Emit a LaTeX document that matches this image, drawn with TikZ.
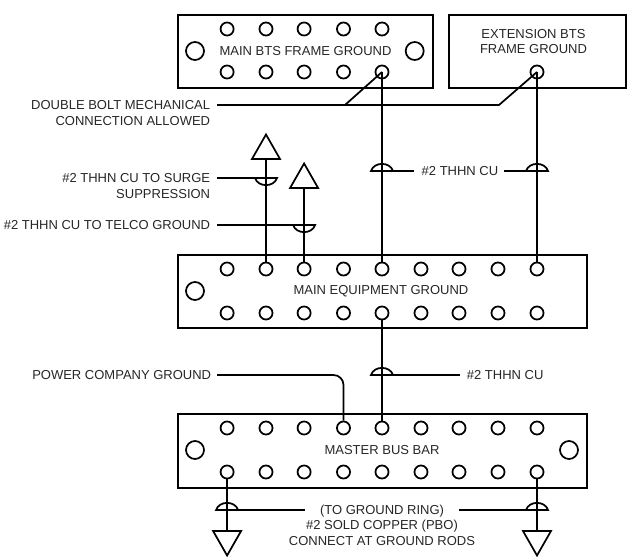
\documentclass[tikz,border=0pt]{standalone}
\usepackage{fontspec}
\setmainfont{Liberation Sans}
\begin{document}
\begin{tikzpicture}[x=0.75pt,y=-0.75pt,line width=1.3pt,
  lbl/.style={inner sep=0pt,font=\fontsize{9.75}{11.6}\selectfont,text=black!85},
  lblr/.style={lbl,anchor=east,align=right},
  hole/.style={circle,draw,fill=white,minimum size=9.8pt,inner sep=0pt},
  bighole/.style={circle,draw,fill=white,minimum size=13.5pt,inner sep=0pt},
  bar/.style={draw,rectangle,inner sep=0pt,anchor=north west},
  upbow/.pic={\draw (-11,0) .. controls (-8,-9.5) and (8,-9.5) .. (11,0) -- cycle;},
  downbow/.pic={\draw (-11,0) .. controls (-8,9.5) and (8,9.5) .. (11,0) -- cycle;},
  uptri/.pic={\draw[line join=miter] (-14,0) -- (0,-24.5) -- (14,0) -- cycle;},
  downtri/.pic={\draw[line join=miter] (-14,0) -- (0,24.5) -- (14,0) -- cycle;}]
\useasboundingbox (0,0) rectangle (637,560);
% boxes
\node[bar,minimum width=191.25pt,minimum height=54.75pt] (btsbox) at (177,14) {};
\node[bar,minimum width=132.75pt,minimum height=54.75pt] (extbox) at (448,14) {};
\node[bar,minimum width=307pt,minimum height=54.75pt] (eqbox) at (177,254) {};
\node[bar,minimum width=307pt,minimum height=55.5pt] (masterbox) at (177,413) {};
% wires (below the holes)
\coordinate (ta) at (266,159);
\coordinate (tb) at (304.1,188);
\coordinate (tc) at (227.1,531);
\coordinate (td) at (537,531);
\coordinate (j1) at (345,105);
\coordinate (j2) at (499,105);
\coordinate (s1) at (217,105);
\coordinate (s2) at (217,178);
\coordinate (s3) at (217,225);
\coordinate (s4) at (217,375);
\coordinate (e1) at (266,178);
\coordinate (e2) at (304.1,225);
\coordinate (b1) at (382,171);
\coordinate (b2) at (537,171);
\coordinate (b3) at (382,375);
\coordinate (b4) at (227.1,510);
\coordinate (b5) at (537,510);
\coordinate (t1) at (414,171);
\coordinate (t2) at (504,171);
\coordinate (t3) at (460,375);
\coordinate (t4) at (305,510);
\coordinate (t5) at (459,510);
% holes
\foreach \n/\x in {1/227.1,2/266,3/304.1,4/343.5,5/382}{
  \node[hole] (bt\n) at (\x,29) {};
  \node[hole] (bb\n) at (\x,72) {};
}
\node[hole] (extb) at (537,72) {};
\node[bighole] (btsl) at (195,51) {};
\node[bighole] (btsr) at (414.7,51) {};
\foreach \n/\x in {1/227.1,2/266,3/304.1,4/343.5,5/382,6/421,7/459,8/498,9/537}{
  \node[hole] (et\n) at (\x,269) {};
  \node[hole] (eb\n) at (\x,313) {};
  \node[hole] (mt\n) at (\x,428) {};
  \node[hole] (mb\n) at (\x,472) {};
}
\node[bighole] (eql) at (195,291) {};
\node[bighole] (ml) at (195,450) {};
\node[bighole] (mr) at (569,450) {};
% connectors
\draw (bb5.center) -- (et5.north);
\draw (extb.center) -- (et9.north);
\draw (ta) -- (et2.north);
\draw (tb) -- (et3.north);
\draw (eb5.south) -- (mt5.north);
\draw (mb1.south) -- (tc);
\draw (mb9.south) -- (td);
\draw (s1) -- (j1) -- (bb5.center);
\draw (j1) -- (j2) -- (extb.center);
\draw (s2) -- (e1);
\draw (s3) -- (e2);
\draw (b1) -- (t1);
\draw (t2) -- (b2);
\draw (b3) -- (t3);
\draw (b4) -- (t4);
\draw (t5) -- (b5);
\draw[rounded corners=7.5pt] (s4) -| (mt4.north);
% bows and triangles
\path (e1) pic {downbow};
\path (e2) pic {downbow};
\path (b1) pic {upbow};
\path (b2) pic {upbow};
\path (b3) pic {upbow};
\path (b4) pic {upbow};
\path (b5) pic {upbow};
\path (ta) pic {uptri};
\path (tb) pic {uptri};
\path (tc) pic {downtri};
\path (td) pic {downtri};
% texts
\node[lbl] (tbts) at (305.5,51) {MAIN BTS FRAME GROUND};
\node[lbl,align=center] (text) at (533.5,41.5) {EXTENSION BTS\\FRAME GROUND};
\node[lbl] (teq) at (381,291) {MAIN EQUIPMENT GROUND};
\node[lbl] (tm) at (382,450) {MASTER BUS BAR};
\node[lblr] (l1) at (211,113) {DOUBLE BOLT MECHANICAL\\CONNECTION ALLOWED};
\node[lblr] (l2) at (211,186) {\#2 THHN CU TO SURGE\\SUPPRESSION};
\node[lblr] (l3) at (211,225) {\#2 THHN CU TO TELCO GROUND};
\node[lblr] (l4) at (212,375) {POWER COMPANY GROUND};
\node[lbl] (l5) at (460,171) {\#2 THHN CU};
\node[lbl,anchor=west] (l6) at (466,375) {\#2 THHN CU};
\node[lbl,align=center,anchor=north] (l7) at (382,504) {(TO GROUND RING)\\\#2 SOLD COPPER (PBO)\\CONNECT AT GROUND RODS};
\end{tikzpicture}
\end{document}
